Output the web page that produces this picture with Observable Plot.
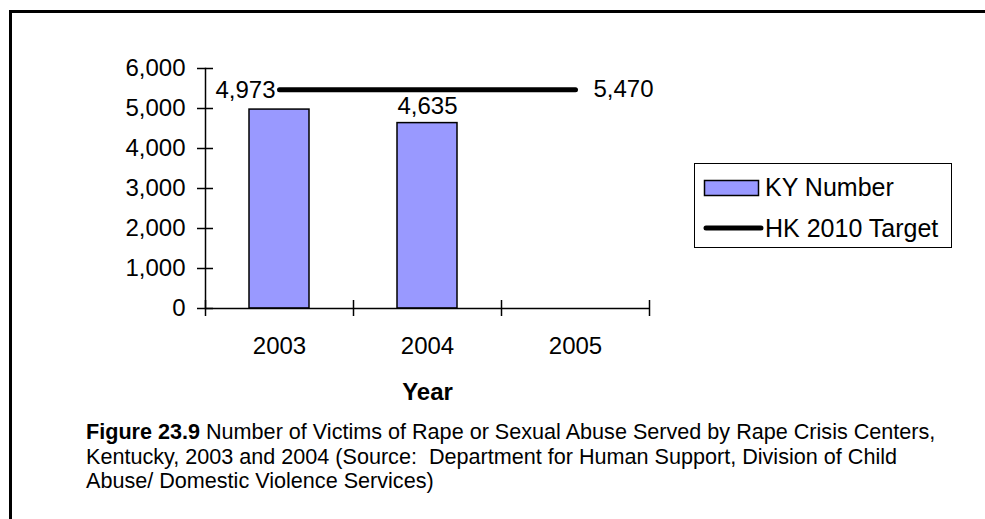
<!DOCTYPE html>
<html>
<head>
<meta charset="utf-8">
<script src="https://cdn.jsdelivr.net/npm/d3@7"></script>
<script src="https://cdn.jsdelivr.net/npm/@observablehq/plot@0.6"></script>
<style>
  html, body { margin: 0; padding: 0; background: #fff; }
  #page { position: relative; width: 985px; height: 519px; overflow: hidden; font-family: Arial, "Liberation Sans", sans-serif; color: #000; }
  #border { position: absolute; left: 9px; top: 10px; width: 1100px; height: 600px; border-top: 3px solid #000; border-left: 3px solid #000; box-sizing: border-box; }
  #chart { position: absolute; left: 0; top: 0; }
  #legend { position: absolute; left: 694px; top: 163px; width: 258px; height: 85px; border: 1.5px solid #000; box-sizing: border-box; background: #fff; }
  .lg-item { position: absolute; left: 0; height: 30px; width: 256px; }
  .lg-item svg { position: absolute; left: 6px; top: 0; }
  .lg-item span { position: absolute; left: 70px; top: 0; line-height: 30px; font-size: 25px; white-space: nowrap; }
  #caption { position: absolute; left: 86px; top: 420px; font-size: 21.6px; line-height: 24.5px; }
  #caption div { height: 24.5px; white-space: pre; }
  #caption span { display: inline-block; }
</style>
</head>
<body>
<div id="page">
  <div id="border"></div>
  <div id="chart"></div>
  <div id="legend"></div>
  <div id="caption"></div>
</div>
<script>
// ---- data ----
const years = ["2003", "2004", "2005"];
const kyYears = ["2003", "2004"];
const kyValues = [4973, 4635];
const targetYears = ["2003", "2005"];
const targetValues = [5470, 5470];
const yTicks = [0, 1000, 2000, 3000, 4000, 5000, 6000];
const seriesNames = ["KY Number", "HK 2010 Target"];
const xLabel = "Year";
const captionBold = "Figure 23.9";
const captionLines = [
  "Number of Victims of Rape or Sexual Abuse Served by Rape Crisis Centers,",
  "Kentucky, 2003 and 2004 (Source:  Department for Human Support, Division of Child",
  "Abuse/ Domestic Violence Services)"
];

const barColor = "#9999FF";
const fmt = d3.format(",");

const ky = kyYears.map((y, i) => ({year: y, value: kyValues[i]}));
const target = targetYears.map((y, i) => ({year: y, value: targetValues[i]}));

const chart = Plot.plot({
  width: 985,
  height: 519,
  marginLeft: 205,
  marginRight: 336,
  marginTop: 68,
  marginBottom: 211,
  style: {fontFamily: "Arial, 'Liberation Sans', sans-serif", fontSize: "24px", color: "#000", background: "transparent", overflow: "visible"},
  x: {type: "band", domain: years, padding: 0},
  y: {domain: [0, 6000]},
  marks: [
    Plot.barY(ky, {x: "year", y: "value", fill: barColor, stroke: "#000", strokeWidth: 1.5, insetLeft: 44, insetRight: 44}),
    Plot.ruleY([0], {stroke: "#000", strokeWidth: 1.5}),
    Plot.frame({anchor: "left", stroke: "#000", strokeWidth: 1.5}),
    Plot.axisY({ticks: yTicks, tickSize: 16, dx: 8, tickFormat: () => "", label: null, strokeWidth: 1.5}),
    Plot.axisY({ticks: yTicks, tickSize: 0, tickPadding: 20, tickFormat: fmt, label: null, fontSize: 24, fill: "#000"}),
    Plot.axisX({ticks: years, tickSize: 16, dx: -74, dy: -8, tickFormat: () => "", label: null, strokeWidth: 1.5}),
    Plot.axisX({ticks: years.slice(-1), tickSize: 16, dx: 74, dy: -8, tickFormat: () => "", label: null, strokeWidth: 1.5}),
    Plot.axisX({ticks: years, tickSize: 0, tickPadding: 28, label: null, fontSize: 24, fill: "#000"}),
    Plot.line(target, {x: "year", y: "value", stroke: "#000", strokeWidth: 5, strokeLinecap: "round"}),
    Plot.text(ky.slice(0, 1), {x: "year", y: "value", text: d => fmt(d.value), textAnchor: "end", dx: -4, dy: -19, lineAnchor: "middle", fontSize: 24, fill: "#000"}),
    Plot.text(ky.slice(1), {x: "year", y: "value", text: d => fmt(d.value), dy: -17, lineAnchor: "middle", fontSize: 24, fill: "#000"}),
    Plot.text(target.slice(-1), {x: "year", y: "value", text: d => fmt(d.value), textAnchor: "start", dx: 18, lineAnchor: "middle", fontSize: 24, fill: "#000"}),
    Plot.text([xLabel], {text: d => d, frameAnchor: "bottom", dy: 84, lineAnchor: "middle", fontWeight: "bold", fontSize: 24, fill: "#000"})
  ]
});
document.getElementById("chart").appendChild(chart);

// legend
const legend = document.getElementById("legend");
const item1 = document.createElement("div");
item1.className = "lg-item";
item1.style.top = "8px";
item1.innerHTML = `<svg width="60" height="30"><rect x="3.5" y="8.5" width="54" height="15" fill="${barColor}" stroke="#000" stroke-width="1.5"/></svg><span>${seriesNames[0]}</span>`;
const item2 = document.createElement("div");
item2.className = "lg-item";
item2.style.top = "49px";
item2.innerHTML = `<svg width="64" height="30"><line x1="5" y1="15" x2="60" y2="15" stroke="#000" stroke-width="5" stroke-linecap="round"/></svg><span>${seriesNames[1]}</span>`;
legend.appendChild(item1);
legend.appendChild(item2);

// caption: each text in its own leaf element
const cap = document.getElementById("caption");
const l1 = document.createElement("div");
const b = document.createElement("span");
b.style.fontWeight = "bold";
b.textContent = captionBold;
const r = document.createElement("span");
r.style.marginLeft = "6px";
r.textContent = captionLines[0];
l1.appendChild(b);
l1.appendChild(r);
cap.appendChild(l1);
for (const line of captionLines.slice(1)) {
  const d = document.createElement("div");
  const s = document.createElement("span");
  s.textContent = line;
  d.appendChild(s);
  cap.appendChild(d);
}
</script>
</body>
</html>
